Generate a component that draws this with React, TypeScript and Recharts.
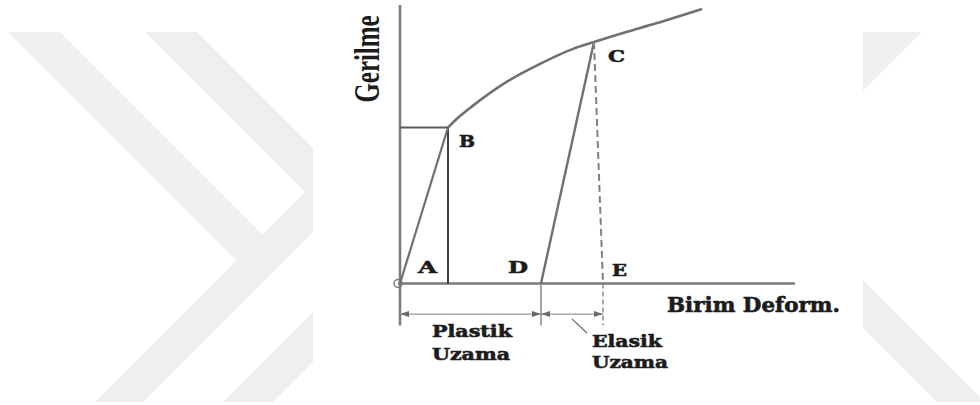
import React from 'react';
import { LineChart, Line, XAxis, YAxis, ReferenceLine, ReferenceDot } from 'recharts';

// Gerilme - birim deformasyon eğrisi (şematik)
const origin = { x: 0, y: 0 };
const pointB = { x: 12, y: 52 };
const pointC = { x: 48.5, y: 80.5 };
const pointD = { x: 35.25, y: 0 };
const pointE = { x: 50.75, y: 0 };

// elastik bölge O -> B
const elasticLoad = [origin, pointB];
// pekleşme eğrisi B -> C -> son
const hardening = [
  pointB,
  { x: 15, y: 55.8 },
  { x: 18.25, y: 59.3 },
  { x: 26.75, y: 67.3 },
  { x: 35, y: 73.2 },
  { x: 43.25, y: 78.2 },
  pointC,
  { x: 55.75, y: 83.5 },
  { x: 64.25, y: 86.8 },
  { x: 75.5, y: 91.5 },
];
// C noktasından boşaltma C -> D
const unloading = [pointD, pointC];
// C -> E kesikli
const recovery = [pointC, pointE];
const yieldLevel = [{ x: 0, y: pointB.y }, pointB];
const yieldDrop = [pointB, { x: pointB.x, y: 0 }];

const axisTopY = 92.8;
const axisEndX = 98.75;
const extBottomY = -14;
const dimY = -10.2;
const leader = [{ x: 43, y: -11.8 }, { x: 46.75, y: -16.5 }];

const GRAY = '#707070';
const INK = '#1c1c1c';
const SERIF = '"DejaVu Serif", serif';

const txt = (label: string, dx: number, dy: number, len: number, size = 17) => (p: any) => (
  <text
    x={p.cx + dx}
    y={p.cy + dy}
    fontFamily={SERIF}
    fontWeight="bold"
    fontSize={size}
    fill={INK}
    stroke={INK}
    strokeWidth={0.6}
    textLength={len}
    lengthAdjust="spacingAndGlyphs"
  >
    {label}
  </text>
);

const arrow = (dir: 1 | -1) => (p: any) => (
  <path
    d={`M${p.cx},${p.cy} L${p.cx - dir * 9},${p.cy - 3} L${p.cx - dir * 9},${p.cy + 3} Z`}
    fill="#6a6a6a"
  />
);

const Watermark = () => (
  <svg width={980} height={405} style={{ position: 'absolute', left: 0, top: 0 }}>
    <g fill="#efefef">
      <polygon points="8,32 60,32 286.5,258.5 236.5,260.5" />
      <polygon points="95,402 143,402 313,232 313,184" />
      <polygon points="145,32 197,32 313,148 313,200" />
      <polygon points="223,402 273,402 313,362 313,312" />
      <polygon points="863,32 922,32 863,91" />
      <polygon points="863,280 980,397 980,402 937,402 863,328" />
    </g>
  </svg>
);

const seg = (data: { x: number; y: number }[], stroke: string, width: number, dash?: string, type: any = 'linear') => (
  <Line
    data={data}
    dataKey="y"
    type={type}
    stroke={stroke}
    strokeWidth={width}
    strokeDasharray={dash}
    dot={false}
    activeDot={false}
    isAnimationActive={false}
  />
);

export default function App() {
  return (
    <div style={{ position: 'absolute', left: 0, top: 0, width: 980, height: 405, background: '#fff' }}>
      <Watermark />
      <div style={{ position: 'absolute', left: 0, top: 0 }}>
        <LineChart width={980} height={405} margin={{ top: 0, right: 0, bottom: 0, left: 0 }}>
          <XAxis type="number" dataKey="x" domain={[-100, 145]} allowDataOverflow hide />
          <YAxis type="number" dataKey="y" domain={[-40.5, 94.5]} allowDataOverflow hide />

          {/* eksenler */}
          <ReferenceLine segment={[{ x: 0, y: axisTopY }, { x: 0, y: extBottomY }]} stroke="#7a7a7a" strokeWidth={2.5} />
          <ReferenceLine segment={[{ x: -0.5, y: 0 }, { x: axisEndX, y: 0 }]} stroke="#7a7a7a" strokeWidth={2.5} />

          {/* ölçü çizgileri */}
          <ReferenceLine segment={[pointD, { x: pointD.x, y: extBottomY }]} stroke="#8a8a8a" strokeWidth={1.5} />
          <ReferenceLine segment={[pointE, { x: pointE.x, y: extBottomY }]} stroke="#8a8a8a" strokeWidth={1.5} strokeDasharray="5 3" />
          <ReferenceLine segment={[{ x: 0, y: dimY }, { x: pointD.x, y: dimY }]} stroke="#9a9a9a" strokeWidth={1.2} />
          <ReferenceLine segment={[{ x: pointD.x, y: dimY }, { x: pointE.x, y: dimY }]} stroke="#9a9a9a" strokeWidth={1.2} />
          <ReferenceLine segment={leader} stroke="#6a6a6a" strokeWidth={1.2} />
          <ReferenceDot x={0} y={dimY} r={1} shape={arrow(-1)} />
          <ReferenceDot x={pointD.x} y={dimY} r={1} shape={arrow(1)} />
          <ReferenceDot x={pointD.x} y={dimY} r={1} shape={arrow(-1)} />
          <ReferenceDot x={pointE.x} y={dimY} r={1} shape={arrow(1)} />

          {seg(yieldLevel, '#5a5a5a', 2)}
          {seg(yieldDrop, '#111', 1.6)}
          {seg(elasticLoad, GRAY, 2.2)}
          {seg(hardening, GRAY, 2.6, undefined, 'monotone')}
          {seg(unloading, GRAY, 2.4)}
          {seg(recovery, '#808080', 2, '7 4')}

          <ReferenceDot x={origin.x - 0.5} y={origin.y} r={4} fill="none" stroke="#7a7a7a" strokeWidth={1.5} />

          {/* etiketler */}
          <ReferenceDot x={axisEndX} y={0} r={0} shape={txt('Birim Deform.', -128, 28.5, 173, 20)} />
          <ReferenceDot x={origin.x} y={origin.y} r={0} shape={txt('A', 18, -10.5, 19)} />
          <ReferenceDot x={pointB.x} y={pointB.y} r={0} shape={txt('B', 11, 19.5, 16)} />
          <ReferenceDot x={pointC.x} y={pointC.y} r={0} shape={txt('C', 14, 20, 17)} />
          <ReferenceDot x={pointD.x} y={pointD.y} r={0} shape={txt('D', -33, -10.5, 20)} />
          <ReferenceDot x={pointE.x} y={pointE.y} r={0} shape={txt('E', 9, -7.5, 15)} />
          <ReferenceDot x={0} y={dimY} r={0} shape={txt('Plastik', 32, 23, 80)} />
          <ReferenceDot x={0} y={dimY} r={0} shape={txt('Uzama', 32, 46, 78)} />
          <ReferenceDot x={leader[1].x} y={leader[1].y} r={0} shape={txt('Elasik', 5, 14, 70)} />
          <ReferenceDot x={leader[1].x} y={leader[1].y} r={0} shape={txt('Uzama', 5, 35, 76)} />
        </LineChart>
      </div>
      {/* dikey eksen başlığı, aşağıdan yukarı okunur */}
      <div
        style={{
          position: 'absolute',
          left: 367,
          top: 58.5,
          transform: 'translate(-50%, -50%) rotate(-90deg) scaleX(0.71)',
          fontFamily: '"Liberation Serif", serif',
          fontWeight: 'bold',
          fontSize: 35,
          lineHeight: 1,
          whiteSpace: 'nowrap',
          color: INK,
        }}
      >
        Gerilme
      </div>
    </div>
  );
}
